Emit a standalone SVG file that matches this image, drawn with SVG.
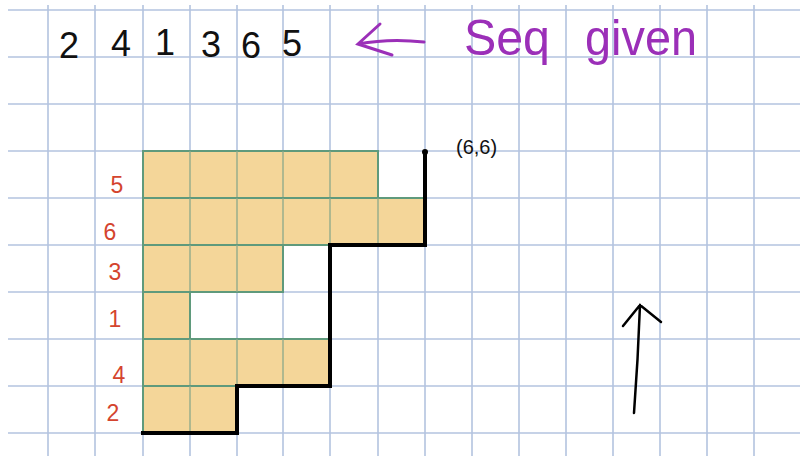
<svg xmlns="http://www.w3.org/2000/svg" width="800" height="456" viewBox="0 0 800 456">
<style>
.grid line{stroke:#b3c3df;stroke-width:1.6}
.bar{fill:#f4d699;stroke:#5f9a7c;stroke-width:2}
.cell{stroke:#8aa88a;stroke-width:1.3}
.red{font-family:"Liberation Sans",sans-serif;font-size:23px;fill:#d4442e;text-anchor:middle}
.blk{font-family:"Liberation Sans",sans-serif;font-size:36px;fill:#111;text-anchor:middle}
.pur{font-family:"Liberation Sans",sans-serif;font-size:50px;fill:#9b2fb8}
.stair{fill:none;stroke:#000;stroke-width:4;stroke-linejoin:miter}
</style>
<rect width="800" height="456" fill="#fff"/>
<g class="grid" id="grid">
<line x1="48" y1="5" x2="48" y2="456"/><line x1="95" y1="5" x2="95" y2="456"/><line x1="143" y1="5" x2="143" y2="456"/><line x1="190" y1="5" x2="190" y2="456"/><line x1="237" y1="5" x2="237" y2="456"/><line x1="283" y1="5" x2="283" y2="456"/><line x1="330" y1="5" x2="330" y2="456"/><line x1="378" y1="5" x2="378" y2="456"/><line x1="425" y1="5" x2="425" y2="456"/><line x1="472" y1="5" x2="472" y2="456"/><line x1="519" y1="5" x2="519" y2="456"/><line x1="566" y1="5" x2="566" y2="456"/><line x1="613" y1="5" x2="613" y2="456"/><line x1="660" y1="5" x2="660" y2="456"/><line x1="707" y1="5" x2="707" y2="456"/><line x1="754" y1="5" x2="754" y2="456"/>
<line x1="8" y1="10" x2="800" y2="10"/><line x1="8" y1="57" x2="800" y2="57"/><line x1="8" y1="104" x2="800" y2="104"/><line x1="8" y1="151" x2="800" y2="151"/><line x1="8" y1="198" x2="800" y2="198"/><line x1="8" y1="245" x2="800" y2="245"/><line x1="8" y1="292" x2="800" y2="292"/><line x1="8" y1="339" x2="800" y2="339"/><line x1="8" y1="386" x2="800" y2="386"/><line x1="8" y1="433" x2="800" y2="433"/>
</g>
<g id="seq-text">
<text class="blk" x="69" y="58">2</text><text class="blk" x="121" y="56">4</text><text class="blk" x="165" y="55">1</text><text class="blk" x="211" y="57">3</text><text class="blk" x="251" y="58">6</text><text class="blk" x="292" y="56">5</text>
</g>
<g id="seq-arrow" fill="none" stroke="#9b2fb8" stroke-width="3" stroke-linecap="round">
<path d="M424,42 Q390,38 358,44 M380,24 L358,44 L392,55"/>
</g>
<g id="seq-given">
<text class="pur" x="464" y="55" textLength="86" lengthAdjust="spacingAndGlyphs">Seq</text>
<text class="pur" x="585" y="55" textLength="112" lengthAdjust="spacingAndGlyphs">given</text>
</g>
<g id="bars">
<g id="bar5"><rect class="bar" x="143" y="151" width="235" height="47"/><line class="cell" x1="190" y1="151" x2="190" y2="198"/><line class="cell" x1="237" y1="151" x2="237" y2="198"/><line class="cell" x1="283" y1="151" x2="283" y2="198"/><line class="cell" x1="330" y1="151" x2="330" y2="198"/></g>
<g id="bar6"><rect class="bar" x="143" y="198" width="282" height="47"/><line class="cell" x1="190" y1="198" x2="190" y2="245"/><line class="cell" x1="237" y1="198" x2="237" y2="245"/><line class="cell" x1="283" y1="198" x2="283" y2="245"/><line class="cell" x1="330" y1="198" x2="330" y2="245"/><line class="cell" x1="378" y1="198" x2="378" y2="245"/></g>
<g id="bar3"><rect class="bar" x="143" y="245" width="140" height="47"/><line class="cell" x1="190" y1="245" x2="190" y2="292"/><line class="cell" x1="237" y1="245" x2="237" y2="292"/></g>
<g id="bar1"><rect class="bar" x="143" y="292" width="47" height="47"/></g>
<g id="bar4"><rect class="bar" x="143" y="339" width="187" height="47"/><line class="cell" x1="190" y1="339" x2="190" y2="386"/><line class="cell" x1="237" y1="339" x2="237" y2="386"/><line class="cell" x1="283" y1="339" x2="283" y2="386"/></g>
<g id="bar2"><rect class="bar" x="143" y="386" width="94" height="47"/><line class="cell" x1="190" y1="386" x2="190" y2="433"/></g>
</g>
<g id="labels">
<text class="red" x="117" y="193">5</text><text class="red" x="110" y="240">6</text><text class="red" x="115" y="280">3</text><text class="red" x="115" y="327">1</text><text class="red" x="119" y="383">4</text><text class="red" x="113" y="421">2</text>
</g>
<g id="staircase">
<path class="stair" d="M141,433 H237 V386 H330 V245 H425 V151"/>
<circle cx="425" cy="152" r="3" fill="#000"/>
</g>
<text id="coord" x="456" y="154" font-family="Liberation Sans,sans-serif" font-size="20" fill="#111">(6,6)</text>
<g id="up-arrow" fill="none" stroke="#000" stroke-width="2.5" stroke-linecap="round">
<path d="M634,413 Q638,360 640,305 M623,326 L640,305 L661,322"/>
</g>
</svg>
